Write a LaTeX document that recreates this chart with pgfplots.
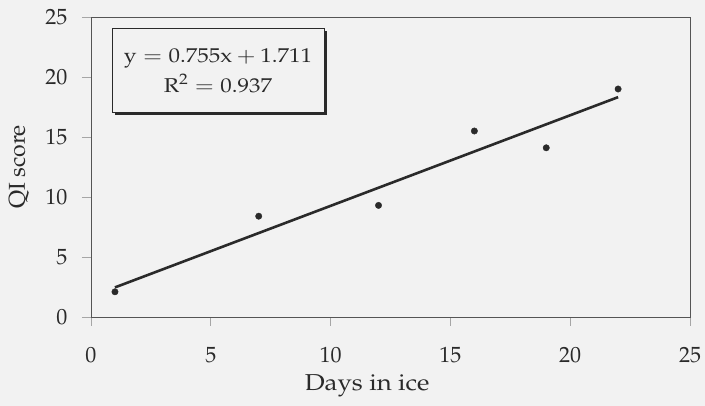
\documentclass[border=0pt]{standalone}
\usepackage[T1]{fontenc}
\usepackage{mathpazo}
\usepackage{pgfplots}
\pgfplotsset{compat=1.18}
\usetikzlibrary{backgrounds,shadows}

\definecolor{bg}{HTML}{F2F2F2}
\definecolor{ink}{HTML}{2A2A2A}

\begin{document}
\begin{tikzpicture}
\begin{axis}[
    scale only axis,
    width=599pt, height=300pt,
    xmin=0, xmax=25, ymin=0, ymax=25,
    xtick={0,5,...,25}, ytick={0,5,...,25},
    tick align=outside,
    xtick pos=bottom, ytick pos=left,
    major tick length=9pt,
    tick style={gray!70, line width=0.8pt},
    axis line style={ink!80, line width=0.9pt},
    ticklabel style={font=\fontsize{22}{24}\selectfont, text=ink},
    xticklabel style={yshift=-18pt},
    yticklabel style={xshift=-11pt},
    xlabel={\scalebox{1.12}[1]{Days in ice}},
    ylabel={QI score},
    label style={font=\fontsize{23}{26}\selectfont, text=ink},
    xlabel style={at={(rel axis cs:0.461,-0.23)}, anchor=center},
    ylabel style={at={(rel axis cs:-0.12,0.5)}, anchor=center, rotate=0},
]
% observations
\addplot[only marks, mark=*, mark size=3.2pt, ink] coordinates {
    (1,2.1) (7,8.4) (12,9.3) (16,15.5) (19,14.1) (22,19.0)
};
% linear trendline y = 0.755x + 1.711
\addplot[ink, line width=2.6pt] coordinates {
    (1,2.466) (22,18.321)
};
\node[draw=ink, line width=0.9pt, fill=bg, align=center,
      minimum width=212pt, minimum height=84pt, inner sep=2pt,
      drop shadow={shadow xshift=3pt, shadow yshift=-3pt, fill=ink, opacity=1},
      font=\fontsize{20}{30}\selectfont, text=ink]
    at (axis cs:5.3,20.55) {\scalebox{1.15}[1]{$\mathrm{y} = 0.755\mathrm{x} + 1.711$}\\ \scalebox{1.15}[1]{$\mathrm{R}^2 = 0.937$}};
\end{axis}
\useasboundingbox (-91pt,-89pt) rectangle (614pt,317pt);
\begin{scope}[on background layer]
\fill[bg] (-91pt,-89pt) rectangle (614pt,317pt);
\end{scope}
\end{tikzpicture}
\end{document}
